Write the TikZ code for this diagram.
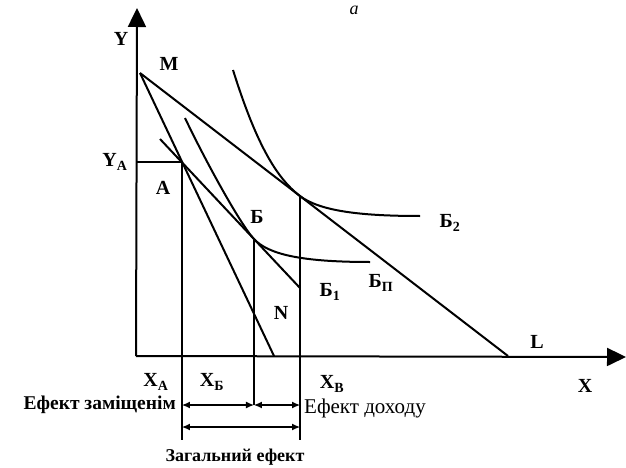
\documentclass[tikz,border=0pt]{standalone}
\usepackage{fontspec}
\setmainfont{Liberation Serif}
\usetikzlibrary{arrows.meta, positioning, calc}

\begin{document}
\begin{tikzpicture}[
    x=1pt, y=-1pt,
    curve/.style={line width=2pt},
    lbl/.style={font=\fontsize{20}{20}\selectfont\bfseries, inner sep=0pt},
    note/.style={font=\fontsize{19.5}{20}\selectfont\bfseries, inner sep=0pt},
    span/.style={line width=1.2pt, {Latex[length=8pt,width=7pt]}-{Latex[length=8pt,width=7pt]}},
]
    \useasboundingbox (0,0) rectangle (626,468);

    % axes
    \coordinate (O) at (136,356);
    \coordinate (ytip) at (137,8);
    \coordinate (xtip) at (626,357);
    \draw[curve, -{Triangle[length=19pt,width=18pt]}] (O) -- (ytip);
    \draw[curve, -{Triangle[length=19pt,width=18pt]}] (O) -- (xtip);

    % budget lines
    \coordinate (M) at (140,73);
    \coordinate (L) at (508,356);
    \coordinate (N) at (274,356);
    \draw[curve] (M) -- (L);
    \draw[curve] (M) -- (N);
    \coordinate (K) at (160,139);
    \coordinate (E) at (300,288);
    \draw[curve] (K) -- (E);
    \coordinate (A) at ($(K)!0.157!(E)$);
    \coordinate (B) at ($(K)!0.671!(E)$);
    \coordinate (V) at ($(M)!0.4348!(L)$);

    % indifference curves
    \coordinate (ic1top) at (185,118);
    \coordinate (ic1end) at (370,262);
    \draw[curve] (ic1top) .. controls (205,160) and (240,224) .. (B)
        .. controls (268,254) and (300,262) .. (ic1end);
    \coordinate (ic2top) at (233,70);
    \coordinate (ic2end) at (420,216);
    \draw[curve] (ic2top) .. controls (255,140) and (275,177) .. (V)
        .. controls (320,211) and (360,216) .. (ic2end);

    % guides
    \coordinate (row1) at (0,405);
    \coordinate (row2) at (0,427);
    \coordinate (bot) at (0,440);
    \draw[curve] (O |- A) -- (A);
    \draw[curve] (A) -- (A |- bot);
    \draw[curve] (B) -- (B |- row1);
    \draw[curve] (V) -- (V |- bot);

    % effects
    \draw[span] (A |- row1) -- (B |- row1);
    \draw[span] (B |- row1) -- (V |- row1);
    \draw[span] (A |- row2) -- (V |- row2);

    % labels
    \node[lbl] (labY) at (121,39) {Y};
    \node[lbl] (labM) at (169,64) {M};
    \node[lbl] (labYA) at (115,162) {Y\textsubscript{A}};
    \node[lbl] (labA) at (163,188) {A};
    \node[lbl] (labB) at (257,217) {Б};
    \node[lbl] (labB2) at (450,223) {Б\textsubscript{2}};
    \node[lbl] (labB1) at (330,292) {Б\textsubscript{1}};
    \node[lbl] (labBP) at (381,283) {Б\textsubscript{П}};
    \node[lbl] (labN) at (281,313) {N};
    \node[lbl] (labL) at (537,342) {L};
    \node[lbl] (labX) at (585,386) {X};
    \node[lbl] (labXA) at (156,382) {X\textsubscript{A}};
    \node[lbl] (labXB) at (212,382) {X\textsubscript{Б}};
    \node[lbl] (labXV) at (332,384) {X\textsubscript{В}};
    \node[lbl, font=\fontsize{18}{18}\selectfont\itshape] (laba) at (354,10) {a};

    \node[note, anchor=east] (subst) at (176,405) {Ефект заміщенім};
    \node[note, anchor=west, font=\fontsize{21}{21}\selectfont] (income) at (304,408) {Ефект доходу};
    \node[note, font=\fontsize{18}{18}\selectfont\bfseries] (total) at (235,457) {Загальний ефект};
\end{tikzpicture}
\end{document}
